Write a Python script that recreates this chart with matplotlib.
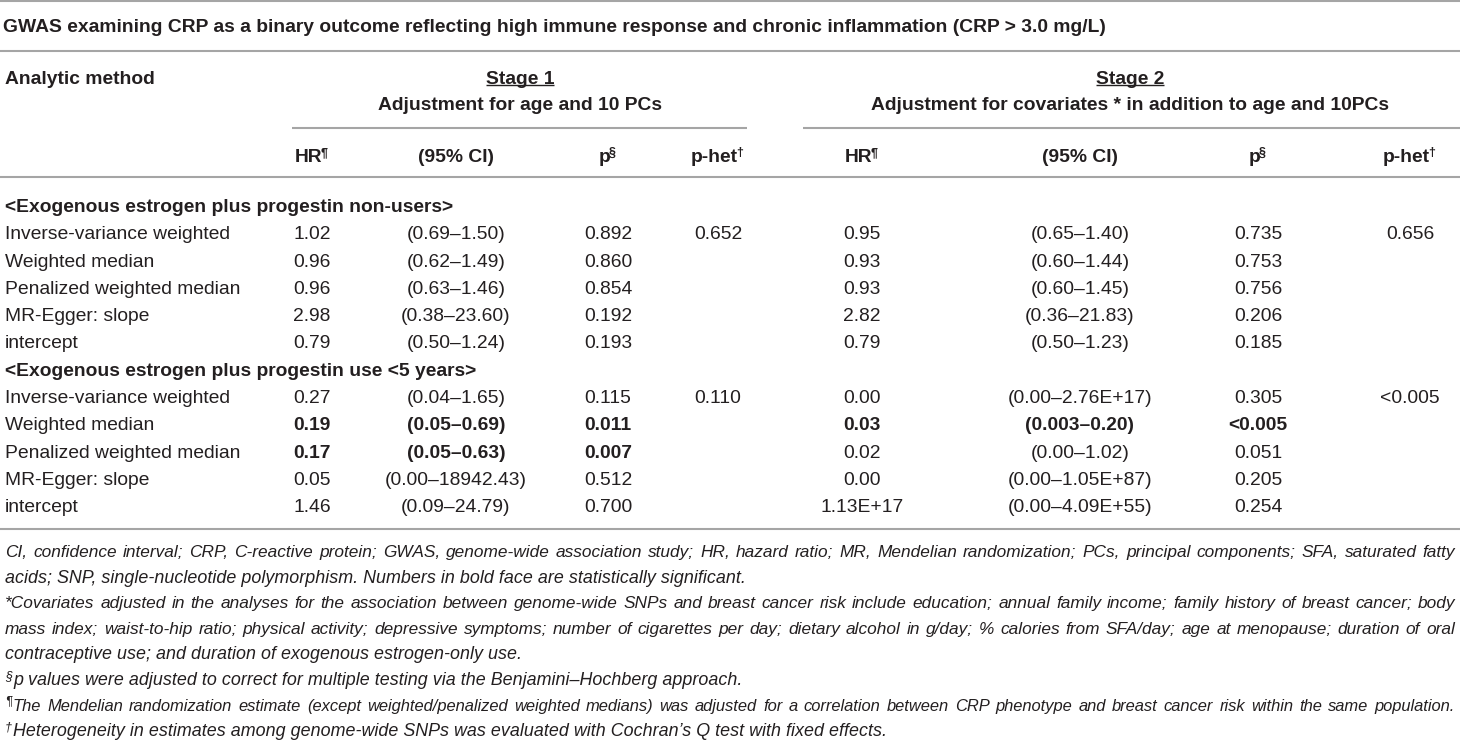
import matplotlib
matplotlib.use('Agg')
import matplotlib.pyplot as plt

plt.rcParams['font.family'] = ['Liberation Sans', 'DejaVu Sans']

# ---- table content ----
title = 'GWAS examining CRP as a binary outcome reflecting high immune response and chronic inflammation (CRP > 3.0 mg/L)'
stage_titles = ['Stage 1', 'Stage 2']
stage_subtitles = ['Adjustment for age and 10 PCs',
                   'Adjustment for covariates * in addition to age and 10PCs']
col_names = ['HR', '(95% CI)', 'p', 'p-het']
col_sups = ['¶', '', '§', '†']

groups = ['<Exogenous estrogen plus progestin non-users>',
          '<Exogenous estrogen plus progestin use <5 years>']
methods = ['Inverse-variance weighted', 'Weighted median', 'Penalized weighted median',
           'MR-Egger: slope', 'intercept']

# group 1: non-users
g1_s1_hr = ['1.02', '0.96', '0.96', '2.98', '0.79']
g1_s1_ci = ['(0.69–1.50)', '(0.62–1.49)', '(0.63–1.46)', '(0.38–23.60)', '(0.50–1.24)']
g1_s1_p = ['0.892', '0.860', '0.854', '0.192', '0.193']
g1_s1_phet = ['0.652', '', '', '', '']
g1_s2_hr = ['0.95', '0.93', '0.93', '2.82', '0.79']
g1_s2_ci = ['(0.65–1.40)', '(0.60–1.44)', '(0.60–1.45)', '(0.36–21.83)', '(0.50–1.23)']
g1_s2_p = ['0.735', '0.753', '0.756', '0.206', '0.185']
g1_s2_phet = ['0.656', '', '', '', '']

# group 2: use < 5 years
g2_s1_hr = ['0.27', '0.19', '0.17', '0.05', '1.46']
g2_s1_ci = ['(0.04–1.65)', '(0.05–0.69)', '(0.05–0.63)', '(0.00–18942.43)', '(0.09–24.79)']
g2_s1_p = ['0.115', '0.011', '0.007', '0.512', '0.700']
g2_s1_phet = ['0.110', '', '', '', '']
g2_s2_hr = ['0.00', '0.03', '0.02', '0.00', '1.13E+17']
g2_s2_ci = ['(0.00–2.76E+17)', '(0.003–0.20)', '(0.00–1.02)', '(0.00–1.05E+87)', '(0.00–4.09E+55)']
g2_s2_p = ['0.305', '<0.005', '0.051', '0.205', '0.254']
g2_s2_phet = ['<0.005', '', '', '', '']

# significant rows (bold) per group and stage
g1_bold = [[False] * 5, [False] * 5]
g2_bold = [[False, True, True, False, False], [False, True, False, False, False]]

notes = [
    ('', 'CI, confidence interval; CRP, C-reactive protein; GWAS, genome-wide association study; HR, hazard ratio; '
         'MR, Mendelian randomization; PCs, principal components; SFA, saturated fatty', True),
    ('', 'acids; SNP, single-nucleotide polymorphism. Numbers in bold face are statistically significant.', False),
    ('', '*Covariates adjusted in the analyses for the association between genome-wide SNPs and breast cancer risk '
         'include education; annual family income; family history of breast cancer; body', True),
    ('', 'mass index; waist-to-hip ratio; physical activity; depressive symptoms; number of cigarettes per day; '
         'dietary alcohol in g/day; % calories from SFA/day; age at menopause; duration of oral', True),
    ('', 'contraceptive use; and duration of exogenous estrogen-only use.', False),
    ('§', 'p values were adjusted to correct for multiple testing via the Benjamini–Hochberg approach.', False),
    ('¶', 'The Mendelian randomization estimate (except weighted/penalized weighted medians) was adjusted for a '
          'correlation between CRP phenotype and breast cancer risk within the same population.', True),
    ('†', 'Heterogeneity in estimates among genome-wide SNPs was evaluated with Cochran’s Q test with fixed effects.', False),
]

# ---- layout (pixels) ----
W, H = 1460, 742
INK = '#231f20'
RULE = '#a5a5a5'
FS = 13.9
FS_NOTE = 12.9
FS_SUP = 9.0
stage_cx = [520, 1130]
col_x = [[312, 456, 608, 718], [862, 1080, 1258, 1410]]
row0, row_h = 205, 27.3

fig = plt.figure(figsize=(W / 100, H / 100), dpi=100)
ax = fig.add_axes([0, 0, 1, 1])
ax.set_xlim(0, W)
ax.set_ylim(H, 0)
ax.axis('off')
renderer = fig.canvas.get_renderer()


def txt(x, yc, s, size=FS, weight='normal', ha='left', style='normal', off=7):
    return ax.text(x, yc + off, s, fontsize=size, fontweight=weight, ha=ha, va='baseline',
                   color=INK, fontstyle=style)


def wid(t):
    return t.get_window_extent(renderer).width


def rule(y, x0=0, x1=W):
    ax.plot([x0, x1], [y, y], color=RULE, lw=1.5, solid_capstyle='butt')


# rules
rule(1)
rule(51)
rule(128, 292, 747)
rule(128, 803, W)
rule(177)
rule(529)

# title and header
txt(3, 25, title, weight='bold')
txt(5, 77, 'Analytic method', weight='bold')
for si in range(2):
    t = txt(stage_cx[si], 77, stage_titles[si], weight='bold', ha='center')
    bb = t.get_window_extent(renderer)
    ax.plot([stage_cx[si] - bb.width / 2, stage_cx[si] + bb.width / 2], [85, 85],
            color=INK, lw=1.0, solid_capstyle='butt')
    txt(stage_cx[si], 103, stage_subtitles[si], weight='bold', ha='center')
    for ci, name in enumerate(col_names):
        sup = col_sups[ci]
        sw = 0
        if sup:
            probe = txt(0, 0, sup, size=FS_SUP, weight='bold')
            sw = wid(probe)
            probe.remove()
        t = txt(col_x[si][ci] - sw / 2, 155, name, weight='bold', ha='center')
        if sup:
            x1 = col_x[si][ci] - sw / 2 + wid(t) / 2 - 1.5
            ax.text(x1, 156, sup, fontsize=FS_SUP, fontweight='bold', ha='left',
                    va='baseline', color=INK)

# body
group_data = [
    ([[g1_s1_hr, g1_s1_ci, g1_s1_p, g1_s1_phet], [g1_s2_hr, g1_s2_ci, g1_s2_p, g1_s2_phet]], g1_bold),
    ([[g2_s1_hr, g2_s1_ci, g2_s1_p, g2_s1_phet], [g2_s2_hr, g2_s2_ci, g2_s2_p, g2_s2_phet]], g2_bold),
]
r = 0
for gi, (stages, bold) in enumerate(group_data):
    yc = row0 + r * row_h
    txt(5, yc, groups[gi], weight='bold')
    r += 1
    for mi, m in enumerate(methods):
        yc = row0 + r * row_h
        txt(5, yc, m)
        for si in range(2):
            w = 'bold' if bold[si][mi] else 'normal'
            for ci in range(4):
                val = stages[si][ci][mi]
                if not val:
                    continue
                cw = 'normal' if ci == 3 else w
                txt(col_x[si][ci], yc, val, weight=cw, ha='center')
        r += 1

# footnotes
x_left, x_right = 5, 1455
for ni, (sup, line, justify) in enumerate(notes):
    yc = 551 + ni * 25.6
    x0 = x_left
    if sup:
        s = ax.text(x0, yc, sup, fontsize=FS_SUP, ha='left', va='baseline',
                    color=INK, fontstyle='italic')
        x0 += wid(s) + 1
    size = FS_NOTE
    if not justify:
        txt(x0, yc, line, size=size, style='italic', off=6)
        continue
    full = txt(x0, yc, line, size=size, style='italic', off=6)
    natural = wid(full)
    full.remove()
    avail = x_right - x0
    if natural > avail:
        size = size * avail / natural * 0.985
    words = line.split(' ')
    objs = [txt(0, yc, wd, size=size, style='italic', off=6) for wd in words]
    ws = [wid(o) for o in objs]
    gap = (avail - sum(ws)) / (len(words) - 1)
    x = x0
    for o, wv in zip(objs, ws):
        o.set_x(x)
        x += wv + gap

fig.savefig('out.png', dpi=100)
